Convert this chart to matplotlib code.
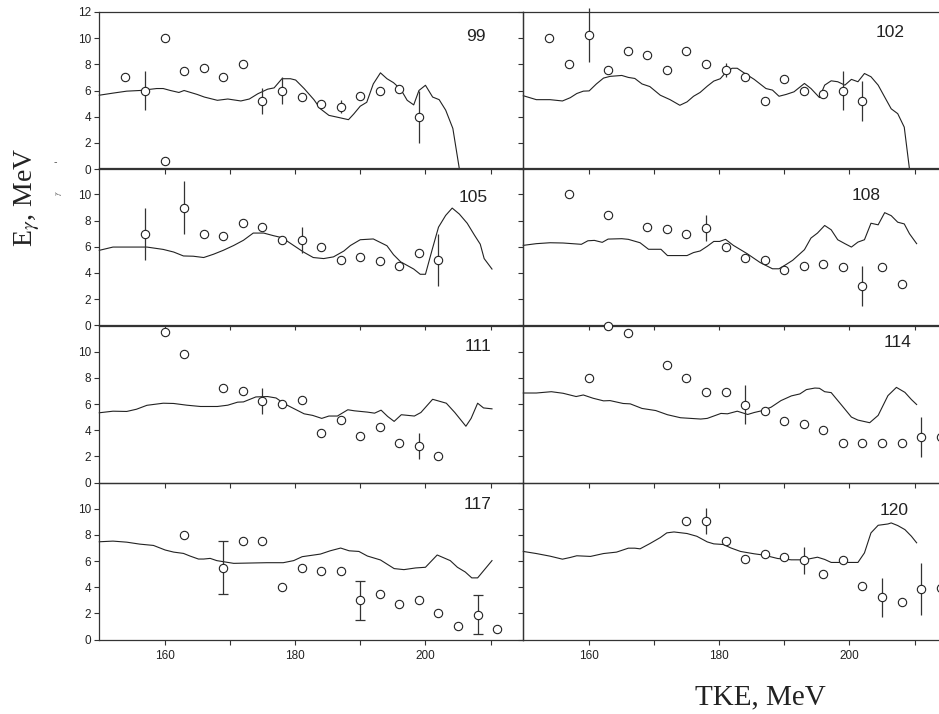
import matplotlib
matplotlib.use("Agg")
import matplotlib.pyplot as plt
import numpy as np
from matplotlib.ticker import FixedLocator, NullFormatter

# ---- data -----------------------------------------------------------------
labels = ["99", "102", "105", "108", "111", "114", "117", "120"]

line_x_99 = [150, 152.1, 154.2, 156.2, 158.8, 159.8, 160.9, 162.2, 163, 164, 165, 166.1, 168.1,
             169.7, 171.7, 173, 174.3, 175.8, 176.8, 178, 179.3, 180.1, 181.4, 182.9, 183.9,
             185.2, 186.4, 188.2, 189, 190, 191, 192, 193.1, 194.1, 195.1, 196.2, 197.2, 198.2,
             199, 200, 201.1, 202.1, 203.1, 204.2, 205.2, 215]
line_y_99 = [5.64, 5.8, 5.95, 6.0, 6.15, 6.15, 6.0, 5.85, 6.0, 5.85, 5.7, 5.5, 5.25,
             5.35, 5.2, 5.35, 5.75, 6.1, 6.2, 6.9, 6.9, 6.8, 6.15, 5.3, 4.6,
             4.1, 3.97, 3.77, 4.2, 4.8, 5.1, 6.5, 7.35, 6.9, 6.6, 6.1, 5.25, 4.9,
             6.0, 6.4, 5.5, 5.3, 4.5, 3.1, 0.0, 0.0]
pts_x_99 = [154, 157, 160, 160, 163, 166, 169, 172, 175, 178, 181, 184, 187, 190, 193, 196, 199]
pts_y_99 = [7.0, 6.0, 10.05, 0.6, 7.5, 7.7, 7.0, 8.0, 5.2, 6.0, 5.5, 5.0, 4.75, 5.6, 6.0, 6.1, 4.0]
err_99 = [0, 1.5, 0, 0, 0, 0, 0, 0, 1.0, 1.0, 0, 0, 0.5, 0, 0, 0, 2.0]

line_x_102 = [150, 152, 154.1, 156, 157.2, 158.2, 159.2, 160.1, 161.2, 162.3, 163.3, 165.1, 166.1,
              167.1, 168.2, 169.4, 171, 172.5, 174, 175.1, 176.1, 177.1, 178.2, 179.2, 180.2,
              181, 182, 182.8, 183.8, 185.4, 187.2, 188.2, 189.2, 190.3, 191.5, 193.1, 194.1,
              195.4, 196.2, 197.2, 198.2, 199.3, 200.3, 201.3, 202.3, 203.3, 204.4, 205.4,
              206.4, 207.4, 208.4, 209.2, 215]
line_y_102 = [5.6, 5.3, 5.3, 5.2, 5.45, 5.77, 5.95, 5.97, 6.5, 6.95, 7.08, 7.15, 7.0,
              6.92, 6.5, 6.3, 5.64, 5.3, 4.87, 5.13, 5.56, 5.85, 6.33, 6.72, 6.9,
              7.36, 7.7, 7.7, 7.36, 6.85, 6.15, 6.03, 5.56, 5.7, 5.9, 6.54, 6.15,
              5.46, 6.41, 6.74, 6.67, 6.41, 6.85, 6.67, 7.3, 7.05, 6.41, 5.5,
              4.6, 4.23, 3.2, 0.0, 0.0]
pts_x_102 = [154, 157, 160, 163, 166, 169, 172, 175, 178, 181, 184, 187, 190, 193, 196, 199, 202]
pts_y_102 = [10.0, 8.0, 10.25, 7.55, 9.05, 8.75, 7.55, 9.05, 8.05, 7.55, 7.0, 5.2, 6.85, 6.0,
             5.7, 6.0, 5.2]
err_102 = [0, 0, 2.05, 0, 0, 0, 0, 0, 0, 0.55, 0, 0, 0, 0, 0, 1.5, 1.5]

line_x_105 = [150, 152.1, 154.2, 157.3, 159.8, 161.4, 162.9, 164.4, 166, 167.5, 169, 170.6, 172.1,
              173.6, 175.2, 176.7, 178, 179.8, 181.3, 182.8, 184.4, 185.9, 187.5, 188.5, 190,
              192, 194.1, 195.1, 196.2, 198.2, 199.2, 200, 201, 202, 203.1, 204.1, 205.2,
              206.4, 207.5, 208.4, 209, 210.2]
line_y_105 = [5.73, 5.98, 5.98, 5.98, 5.8, 5.6, 5.3, 5.28, 5.18, 5.43, 5.73, 6.1, 6.5,
              7.05, 7.05, 6.85, 6.7, 6.1, 5.6, 5.18, 5.1, 5.23, 5.68, 6.1, 6.54,
              6.6, 6.08, 5.4, 4.85, 4.3, 3.9, 3.9, 5.73, 7.5, 8.4, 8.96, 8.5,
              7.8, 6.9, 6.2, 5.1, 4.3]
pts_x_105 = [157, 163, 166, 169, 172, 175, 178, 181, 184, 187, 190, 193, 196, 199, 202]
pts_y_105 = [7.0, 9.0, 7.0, 6.8, 7.8, 7.55, 6.5, 6.5, 6.0, 5.0, 5.2, 4.9, 4.5, 5.5, 5.0]
err_105 = [2.0, 2.0, 0, 0, 0, 0, 0, 1.0, 0, 0, 0, 0, 0, 0, 2.0]

line_x_108 = [150, 152, 154.1, 156.1, 158.9, 159.9, 160.9, 162.1, 163, 165.1, 166.1, 167.9, 169.2,
              171.1, 172.1, 175.1, 176.1, 177.1, 178.2, 179.2, 180.1, 181, 182.2, 184.3, 186.3,
              188.2, 189.2, 190.3, 191.3, 193.1, 194.1, 195.1, 196.2, 197.2, 198.2, 199.3,
              200.3, 201.3, 202.3, 203.3, 204.4, 205.4, 206.4, 207.4, 208.4, 209.2, 210.3]
line_y_108 = [6.11, 6.24, 6.31, 6.29, 6.19, 6.46, 6.49, 6.34, 6.59, 6.62, 6.57, 6.31, 5.81,
              5.81, 5.33, 5.33, 5.56, 5.68, 6.04, 6.41, 6.41, 6.57, 6.11, 5.48, 4.8,
              4.32, 4.32, 4.65, 4.97, 5.78, 6.67, 7.05, 7.63, 7.3, 6.54, 6.24,
              5.98, 6.36, 6.54, 7.8, 7.68, 8.61, 8.38, 7.88, 7.75, 7.0, 6.24]
pts_x_108 = [157, 163, 169, 172, 175, 178, 181, 184, 187, 190, 193, 196, 199, 202, 205, 208]
pts_y_108 = [10.0, 8.45, 7.55, 7.37, 6.95, 7.45, 5.96, 5.15, 4.97, 4.2, 4.55, 4.67, 4.42, 3.0,
             4.47, 3.16]
err_108 = [0, 0, 0, 0, 0, 1.0, 0, 0, 0, 0, 0, 0, 0, 1.5, 0, 0]

line_x_111 = [150, 152.1, 154.2, 155.7, 157.3, 159.8, 161.4, 163.4, 165.5, 168.1, 169.7, 171.2,
              172.1, 174, 175.8, 177.1, 178.4, 179.9, 181.4, 182.7, 184.1, 185.2, 186.5, 188.1,
              189.1, 191.1, 192.2, 193.2, 194.2, 195.2, 196.3, 198.3, 199.3, 201.1, 203.2,
              204.5, 206.2, 207, 208, 208.9, 210.2]
line_y_111 = [5.33, 5.45, 5.43, 5.6, 5.9, 6.06, 6.04, 5.91, 5.81, 5.81, 5.91, 6.14,
              6.16, 6.54, 6.57, 6.46, 6.01, 5.63, 5.25, 5.13, 4.9, 5.08, 5.08, 5.56,
              5.48, 5.38, 5.3, 5.53, 5.05, 4.67, 5.18, 5.08, 5.35, 6.36, 6.06,
              5.35, 4.3, 4.9, 6.06, 5.7, 5.63]
pts_x_111 = [160, 163, 169, 172, 175, 178, 181, 184, 187, 190, 193, 196, 199, 202]
pts_y_111 = [11.5, 9.82, 7.2, 7.0, 6.2, 6.0, 6.29, 3.81, 4.8, 3.54, 4.22, 3.03, 2.8, 2.02]
err_111 = [0, 0, 0, 0, 1.0, 0, 0, 0, 0, 0, 0, 0, 1.0, 0]

line_x_114 = [150, 152, 154.3, 156.1, 158.1, 159.2, 160.7, 162.3, 163.3, 165.3, 166.4, 168.2,
              170.3, 172.1, 174.1, 177.2, 178.2, 180.3, 181.3, 182.8, 184.4, 185.4, 186.7,
              188, 189.5, 191.1, 192.4, 193.4, 194.7, 195.4, 196.2, 197.2, 198.8, 200.3,
              201.3, 203.1, 204.4, 205.9, 207.2, 208.5, 209.5, 210.3]
line_y_114 = [6.84, 6.84, 6.94, 6.82, 6.57, 6.69, 6.44, 6.24, 6.26, 6.04, 6.01, 5.66,
              5.5, 5.18, 4.95, 4.85, 4.9, 5.28, 5.25, 5.45, 5.2, 5.35, 5.5,
              5.76, 6.26, 6.62, 6.77, 7.1, 7.22, 7.2, 6.94, 6.87, 5.91, 5.0,
              4.77, 4.57, 5.13, 6.64, 7.27, 6.89, 6.34, 5.96]
pts_x_114 = [160, 163, 166, 172, 175, 178, 181, 184, 187, 190, 193, 196, 199, 202, 205, 208,
             211, 214]
pts_y_114 = [8.0, 12.0, 11.45, 8.95, 7.95, 6.95, 6.95, 5.96, 5.48, 4.67, 4.44, 4.0, 3.0, 3.0,
             3.0, 3.0, 3.48, 3.48]
err_114 = [0, 0, 0, 0, 0, 0, 0, 1.5, 0, 0, 0, 0, 0, 0, 0, 0, 1.5, 0]

line_x_117 = [150, 152.1, 154.2, 156.2, 158.3, 160.1, 161.4, 162.9, 163.9, 165.2, 166, 167, 168,
              170.6, 173.6, 175.7, 178.2, 179.8, 181.1, 183.9, 185.4, 187, 188.3, 189.8,
              191.1, 193.1, 195.2, 196.7, 198.5, 200, 201.8, 203.8, 204.9, 206.1, 207.1,
              208, 210.2]
line_y_117 = [7.47, 7.52, 7.44, 7.29, 7.19, 6.84, 6.68, 6.58, 6.38, 6.15, 6.15, 6.2, 6.03,
              5.82, 5.85, 5.87, 5.87, 6.03, 6.33, 6.53, 6.78, 6.99, 6.78, 6.73,
              6.38, 6.08, 5.42, 5.34, 5.47, 5.52, 6.46, 6.03, 5.52, 5.16, 4.71,
              4.71, 6.03]
pts_x_117 = [163, 169, 172, 175, 178, 181, 184, 187, 190, 193, 196, 199, 202, 205, 208, 211]
pts_y_117 = [8.0, 5.5, 7.5, 7.5, 4.0, 5.5, 5.2, 5.2, 3.0, 3.5, 2.7, 3.0, 2.0, 1.0, 1.9, 0.8]
err_117 = [0, 2.0, 0, 0, 0, 0, 0, 0, 1.5, 0, 0, 0, 0, 0, 1.5, 0]

line_x_120 = [150, 152, 154.1, 156, 157.2, 158.2, 160.3, 162.3, 164.3, 166.1, 167.1, 167.9, 169.4,
              171, 172, 173.1, 175.1, 176.6, 178.2, 179.2, 180.7, 181.8, 183.3, 185.4, 186.9,
              189, 191.1, 193.1, 195.1, 196.2, 197.2, 199.3, 201.3, 202.3, 203.3, 204.4,
              205.9, 206.4, 207.4, 208.5, 209.5, 210.3]
line_y_120 = [6.73, 6.57, 6.37, 6.14, 6.27, 6.4, 6.35, 6.57, 6.68, 6.98, 6.98, 6.93, 7.33,
              7.79, 8.15, 8.22, 8.1, 7.89, 7.46, 7.31, 7.26, 7.0, 6.73, 6.55, 6.45,
              6.19, 6.09, 6.09, 6.29, 6.12, 5.89, 5.89, 5.89, 6.62, 8.15, 8.73,
              8.83, 8.91, 8.71, 8.4, 7.89, 7.39]
pts_x_120 = [175, 178, 181, 184, 187, 190, 193, 196, 199, 202, 205, 208, 211, 214]
pts_y_120 = [9.05, 9.05, 7.55, 6.17, 6.52, 6.32, 6.04, 5.03, 6.04, 4.06, 3.22, 2.87, 3.86, 3.93]
err_120 = [0, 1.0, 0, 0, 0, 0, 1.0, 0, 0, 0, 1.5, 0, 2.0, 0]

lines_x = [line_x_99, line_x_102, line_x_105, line_x_108, line_x_111, line_x_114, line_x_117, line_x_120]
lines_y = [line_y_99, line_y_102, line_y_105, line_y_108, line_y_111, line_y_114, line_y_117, line_y_120]
pts_x = [pts_x_99, pts_x_102, pts_x_105, pts_x_108, pts_x_111, pts_x_114, pts_x_117, pts_x_120]
pts_y = [pts_y_99, pts_y_102, pts_y_105, pts_y_108, pts_y_111, pts_y_114, pts_y_117, pts_y_120]
errs = [err_99, err_102, err_105, err_108, err_111, err_114, err_117, err_120]

# label anchors (data coords) for the mass numbers
label_pos = [(207.8, 10.1), (206.2, 10.4), (207.3, 9.8), (202.6, 9.9),
             (208.1, 10.4), (207.3, 10.7), (208.0, 10.3), (206.9, 9.85)]

# ---- layout ---------------------------------------------------------------
W, H = 939, 714
INK = "#222222"
plt.rcParams["mathtext.fontset"] = "stix"

fig = plt.figure(figsize=(W / 100, H / 100), dpi=100)
fig.patch.set_facecolor("white")

col_x0 = [99.3, 523.3]
col_w = 424.0
row_top = [12.0, 168.3, 325.5, 482.5]
row_h = 157.0

for i in range(8):
    r, c = divmod(i, 2)
    ax = fig.add_axes([col_x0[c] / W, 1 - (row_top[r] + row_h) / H, col_w / W, row_h / H])
    ax.set_facecolor("none")
    ax.set_xlim(150, 215)
    ax.set_ylim(0, 12)

    ax.plot(lines_x[i], lines_y[i], color=INK, lw=0.8, zorder=2, clip_on=False)

    e = np.array(errs[i], dtype=float)
    px = np.array(pts_x[i], dtype=float)
    py = np.array(pts_y[i], dtype=float)
    m = e > 0
    ax.errorbar(px[m], py[m], yerr=e[m], fmt="none", ecolor="#333333", elinewidth=0.9,
                capsize=3.8 if labels[i] == "117" else 0, capthick=0.9, zorder=3,
                clip_on=False)
    ax.plot(px, py, "o", ms=6, mfc="white", mec=INK, mew=0.8, zorder=4, clip_on=False)

    ax.text(label_pos[i][0], label_pos[i][1], labels[i], ha="center", va="center",
            fontsize=12.5, color=INK, family="Liberation Sans")

    ax.xaxis.set_major_locator(FixedLocator([160, 180, 200]))
    ax.xaxis.set_minor_locator(FixedLocator([170, 190, 210]))
    ax.yaxis.set_major_locator(FixedLocator(range(0, 13 if r == 0 else 11, 2)))
    ax.tick_params(which="both", direction="out", length=3.6, width=0.8, color="#333333",
                   labelsize=8.5, labelcolor=INK, pad=2.5)
    ax.tick_params(axis="x", pad=4)
    ax.tick_params(top=False, right=False)
    for lab in ax.get_xticklabels() + ax.get_yticklabels():
        lab.set_family("Liberation Sans")
    if r < 3:
        ax.xaxis.set_major_formatter(NullFormatter())
    if c == 1:
        ax.yaxis.set_major_formatter(NullFormatter())
    for s in ax.spines.values():
        s.set_color("#333333")
        s.set_linewidth(0.9)

fig.text(27 / W, 1 - 197 / H, r"E$_{\gamma}$, MeV", rotation=90, ha="center", va="center",
         fontsize=20, family="Liberation Serif", color=INK)
fig.text(59 / W, 1 - 193 / H, r"$\gamma$", rotation=90, ha="center", va="center",
         fontsize=6, color="#555555")
fig.text(55 / W, 1 - 162 / H, "-", rotation=0, ha="center", va="center",
         fontsize=7, color="#555555")
fig.text(760 / W, 1 - 697 / H, "TKE, MeV", ha="center", va="center",
         fontsize=21, family="Liberation Serif", color=INK)

fig.savefig("out.png", dpi=100, facecolor="white")
